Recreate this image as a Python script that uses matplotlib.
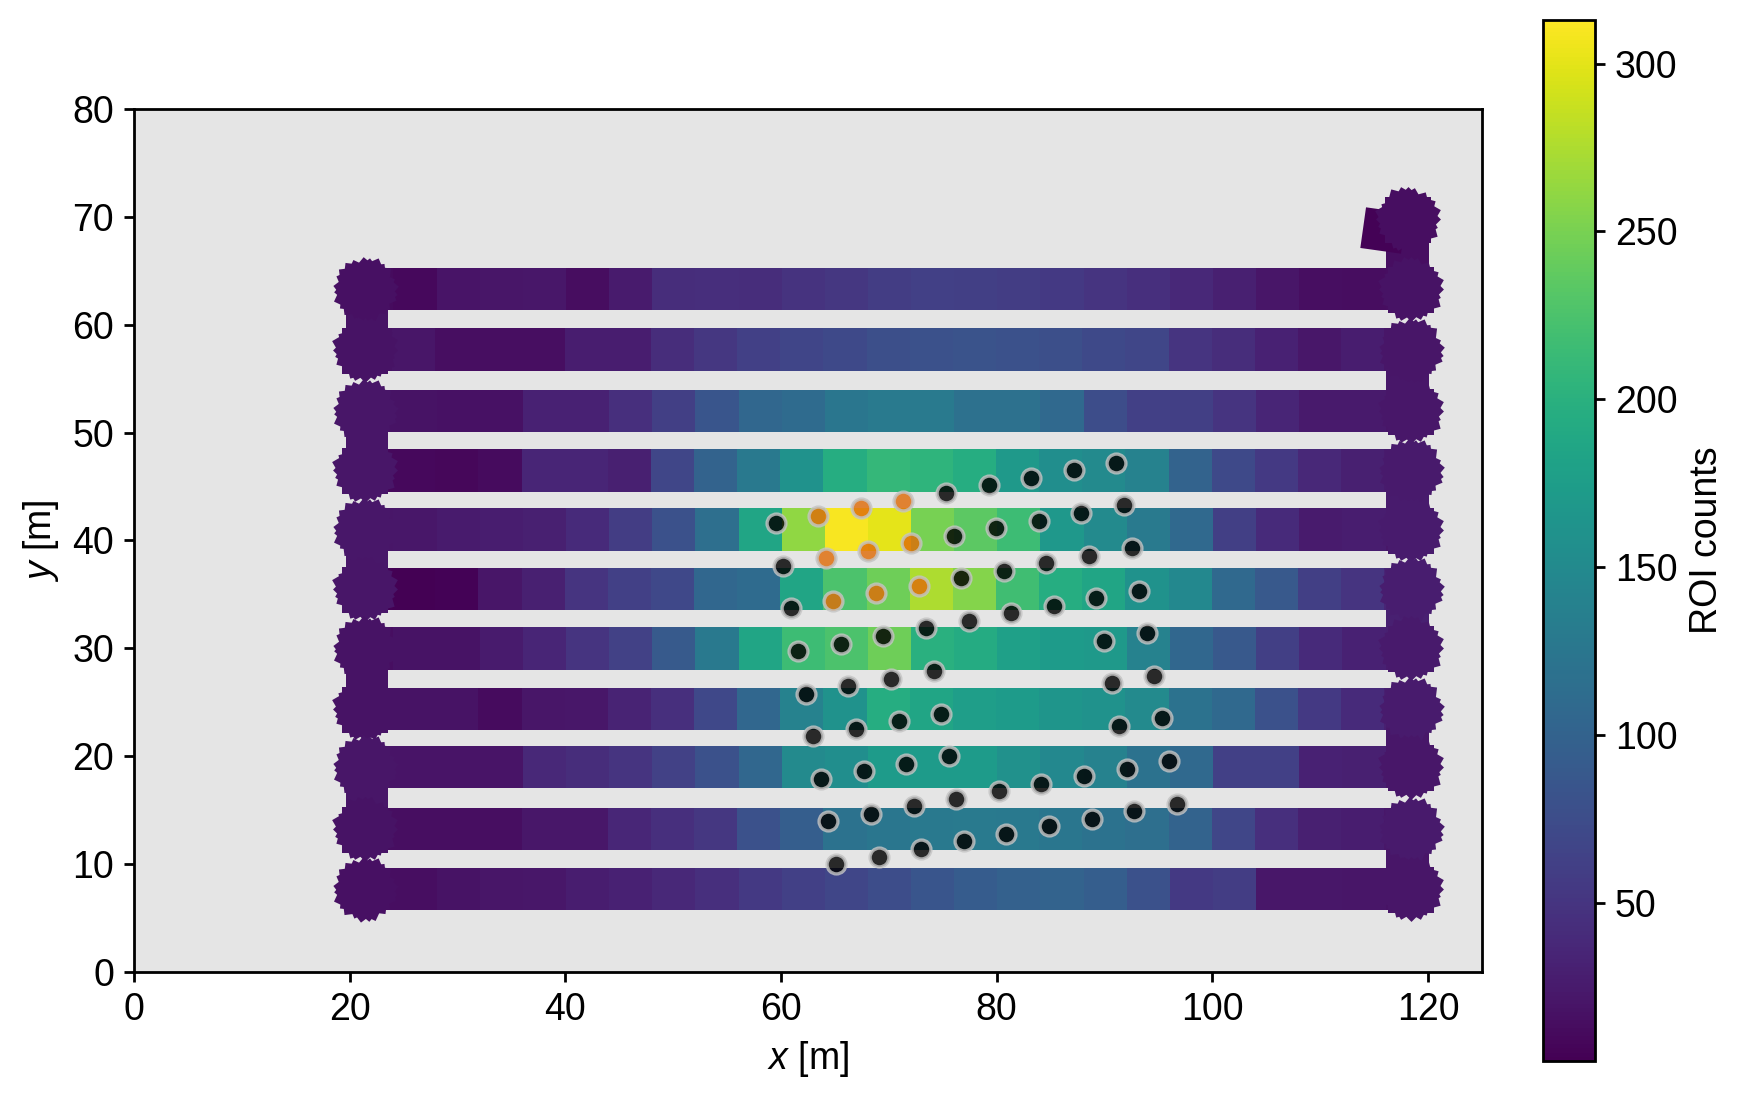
import numpy as np
import matplotlib
matplotlib.use("Agg")
import matplotlib.pyplot as plt
from matplotlib.colors import Normalize

plt.rcParams['font.family'] = ['Liberation Sans', 'DejaVu Sans']
plt.rcParams['mathtext.fontset'] = 'custom'
plt.rcParams['mathtext.it'] = 'Liberation Sans:italic'
plt.rcParams['mathtext.rm'] = 'Liberation Sans'
plt.rcParams['font.size'] = 13.5

# ---------------- data ----------------
# survey lines (top to bottom), sample positions along each line
row_y = [63.3, 57.7, 52.0, 46.5, 41.0, 35.5, 30.0, 24.4, 19.0, 13.25, 7.7]
x_grid = [22, 26, 30, 34, 38, 42, 46, 50, 54, 58, 62, 66, 70, 74, 78, 82,
          86, 90, 94, 98, 102, 106, 110, 114, 118]

row11 = [12, 10, 19, 20, 22, 13, 25, 42, 44, 42, 48, 52, 58, 62, 60, 58, 55, 50, 45, 38, 30, 20, 15, 13, 15]
row10 = [18, 20, 15, 15, 15, 28, 28, 42, 52, 62, 66, 72, 78, 80, 82, 80, 78, 72, 68, 50, 42, 32, 22, 28, 20]
row9 = [18, 18, 17, 17, 32, 32, 45, 60, 85, 105, 110, 125, 130, 130, 118, 117, 108, 75, 62, 60, 50, 35, 24, 24, 20]
row8 = [10, 10, 8, 12, 35, 35, 30, 68, 100, 128, 160, 195, 210, 205, 195, 170, 155, 150, 140, 100, 72, 55, 37, 30, 25]
row7 = [20, 22, 25, 28, 30, 40, 58, 80, 115, 185, 262, 310, 300, 250, 235, 215, 168, 150, 130, 108, 60, 40, 25, 28, 22]
row6 = [5, 4, 5, 20, 30, 50, 62, 70, 105, 110, 185, 225, 245, 275, 255, 218, 195, 185, 160, 148, 108, 88, 60, 50, 35]
row5 = [15, 18, 18, 25, 35, 50, 63, 90, 128, 185, 215, 225, 245, 200, 192, 178, 172, 170, 140, 105, 88, 60, 40, 32, 25]
row4 = [18, 18, 18, 12, 20, 22, 33, 45, 70, 105, 140, 160, 195, 185, 175, 172, 165, 160, 150, 120, 108, 80, 55, 40, 30]
row3 = [19, 19, 19, 19, 37, 42, 50, 63, 80, 105, 150, 155, 172, 172, 172, 158, 148, 140, 120, 108, 62, 62, 32, 30, 22]
row2 = [14, 14, 14, 14, 22, 22, 36, 45, 52, 80, 95, 120, 125, 128, 130, 128, 125, 120, 115, 100, 68, 45, 30, 28, 22]
row1 = [15, 15, 18, 20, 22, 28, 32, 38, 45, 55, 62, 68, 75, 85, 92, 98, 100, 95, 80, 55, 58, 22, 22, 20, 18]
row_values = [row11, row10, row9, row8, row7, row6, row5, row4, row3, row2, row1]

# turns at line ends
left_x, right_x = 21.6, 118.1
left_turn_vals = [18, 20, 22, 18, 20]          # 11->10, 9->8, 7->6, 5->4, 3->2
right_turn_vals = [15, 22, 25, 30, 22, 20]     # start->11, 10->9, 8->7, 6->5, 4->3, 2->1
start_x, start_y, start_val = 115.8, 68.8, 5
start_turn_y = 69.8
blob_vals_left = [16, 18, 20, 20, 22, 20, 18, 18, 20, 18, 16]
blob_vals_right = [18, 20, 22, 24, 26, 28, 24, 26, 22, 24, 20]

# sampling points (black) and selected points (orange)
black_x = [59.5, 75.3, 79.25, 83.2, 87.15, 91.1,
           60.2, 76.0, 79.95, 83.9, 87.85, 91.8,
           60.9, 76.7, 80.65, 84.6, 88.55, 92.5,
           61.6, 65.55, 69.5, 73.45, 77.4, 81.35, 85.3, 89.25, 93.2,
           62.3, 66.25, 70.2, 74.15, 89.95, 93.9,
           63.0, 66.95, 70.9, 74.85, 90.65, 94.6,
           63.7, 67.65, 71.6, 75.55, 91.35, 95.3,
           64.4, 68.35, 72.3, 76.25, 80.2, 84.15, 88.1, 92.05, 96.0,
           65.1, 69.05, 73.0, 76.95, 80.9, 84.85, 88.8, 92.75, 96.7]
black_y = [41.6, 44.4, 45.1, 45.8, 46.5, 47.2,
           37.65, 40.45, 41.15, 41.85, 42.55, 43.25,
           33.7, 36.5, 37.2, 37.9, 38.6, 39.3,
           29.75, 30.45, 31.15, 31.85, 32.55, 33.25, 33.95, 34.65, 35.35,
           25.8, 26.5, 27.2, 27.9, 30.7, 31.4,
           21.85, 22.55, 23.25, 23.95, 26.75, 27.45,
           17.9, 18.6, 19.3, 20.0, 22.8, 23.5,
           13.95, 14.65, 15.35, 16.05, 16.75, 17.45, 18.15, 18.85, 19.55,
           10.0, 10.7, 11.4, 12.1, 12.8, 13.5, 14.2, 14.9, 15.6]
orange_x = [63.45, 67.4, 71.35, 64.15, 68.1, 72.05, 64.85, 68.8, 72.75]
orange_y = [42.3, 43.0, 43.7, 38.35, 39.05, 39.75, 34.4, 35.1, 35.8]

vmin, vmax = 3, 313

# ---------------- figure ----------------
DPI = 200
fig = plt.figure(figsize=(8.73, 5.495), dpi=DPI)
ax = fig.add_axes([0.0767, 0.1156, 0.7721, 0.7852])
cax = fig.add_axes([0.8836, 0.0349, 0.0300, 0.9469])
ax.set_xlim(0, 125)
ax.set_ylim(0, 80)
ax.set_facecolor('#e5e5e5')

cmap = plt.get_cmap('viridis')
norm = Normalize(vmin, vmax)

fig.canvas.draw()
px_per_unit = ax.transData.transform((1, 0))[0] - ax.transData.transform((0, 0))[0]
pt_per_unit = px_per_unit * 72.0 / DPI
band = 3.94  # band width in data units
step = x_grid[1] - x_grid[0]
s_poly = (band * pt_per_unit * np.sqrt(2) * 1.08) ** 2

# rows drawn as overlapping cells in path order
for k, (yy, vals) in enumerate(zip(row_y, row_values)):
    order = list(range(len(x_grid))) if k % 2 == 1 else list(range(len(x_grid) - 1, -1, -1))
    xs = [x_grid[i] for i in order]
    cols = cmap(norm([vals[i] for i in order]))
    ax.bar(xs, band, width=step * 1.03, bottom=yy - band / 2, color=cols,
           linewidth=0, zorder=2)

# vertical connectors
def connector(x, y0, y1, v):
    lo, hi = min(y0, y1), max(y0, y1)
    ax.bar([x], hi - lo, width=band, bottom=lo, color=cmap(norm(v)),
           linewidth=0, zorder=3)

left_pairs = [(0, 1), (2, 3), (4, 5), (6, 7), (8, 9)]
for (a, b), v in zip(left_pairs, left_turn_vals):
    connector(left_x, row_y[a], row_y[b], v)
right_pairs = [(1, 2), (3, 4), (5, 6), (7, 8), (9, 10)]
connector(right_x, start_turn_y, row_y[0], right_turn_vals[0])
for (a, b), v in zip(right_pairs, right_turn_vals[1:]):
    connector(right_x, row_y[a], row_y[b], v)

# start marker
ax.scatter([start_x], [start_y], c=[start_val], cmap=cmap, norm=norm,
           marker=(4, 0, 37), s=s_poly * 0.8, linewidths=0, zorder=3)

# turn blobs (rotated squares)
def blob(x, y, v, seed_angles):
    for ang, dx, dy in seed_angles:
        ax.scatter([x + dx], [y + dy], c=[v], cmap=cmap, norm=norm,
                   marker=(4, 0, ang), s=s_poly, linewidths=0, zorder=4)

angles_a = [(0, 0.0, 0.0), (15, 0.15, 0.1), (30, -0.1, 0.15), (45, 0.0, -0.1),
            (60, 0.1, -0.05), (75, -0.15, 0.05)]
angles_b = [(5, 0.1, 0.0), (20, -0.1, -0.1), (38, 0.05, 0.12), (52, -0.05, 0.0),
            (68, 0.12, 0.08), (82, 0.0, -0.12)]
for k, yy in enumerate(row_y):
    blob(left_x - 0.2, yy, blob_vals_left[k], angles_a if k % 2 else angles_b)
    blob(right_x + 0.3, yy, blob_vals_right[k], angles_b if k % 2 else angles_a)
blob(right_x, start_turn_y, 15, angles_a)

# scatter of sampling locations
ax.scatter(black_x, black_y, s=46, c='black', alpha=0.82, edgecolors='#c4c4c4',
           linewidths=1.2, zorder=6)
ax.scatter(orange_x, orange_y, s=46, c='#df6d09', alpha=0.82, edgecolors='#c4c4c4',
           linewidths=1.2, zorder=6)

ax.set_xlim(0, 125)
ax.set_ylim(0, 80)
ax.set_xticks([0, 20, 40, 60, 80, 100, 120])
ax.set_yticks([0, 10, 20, 30, 40, 50, 60, 70, 80])
ax.set_xlabel('$x$ [m]')
ax.set_ylabel('$y$ [m]')
for sp in ax.spines.values():
    sp.set_linewidth(1.0)
ax.tick_params(width=1.0, length=3.6)

sm = plt.cm.ScalarMappable(norm=norm, cmap=cmap)
cb = fig.colorbar(sm, cax=cax)
cb.set_ticks([50, 100, 150, 200, 250, 300])
cb.set_label('ROI counts')
cb.outline.set_linewidth(1.0)
cax.tick_params(width=1.0, length=3.6)

fig.savefig('out.png', dpi=DPI)
